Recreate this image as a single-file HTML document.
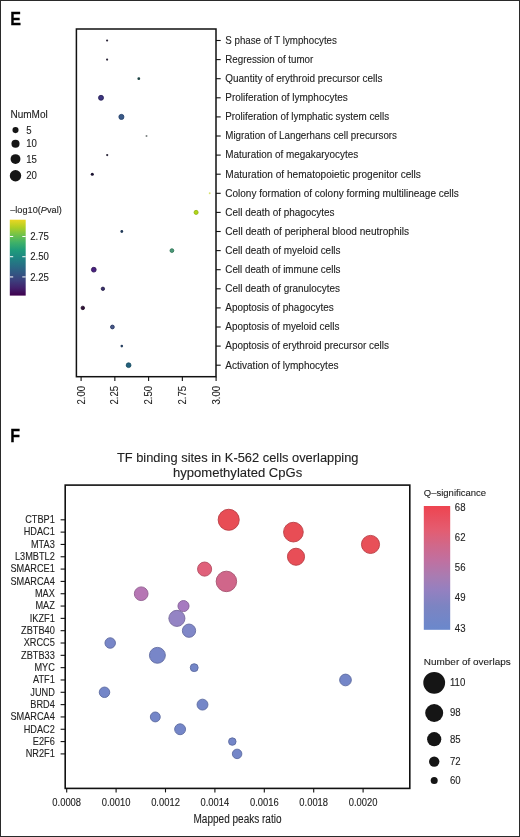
<!DOCTYPE html>
<html><head><meta charset="utf-8"><title>Figure</title>
<style>html,body{margin:0;padding:0;background:#fff;width:520px;height:837px;overflow:hidden}</style>
</head><body>
<svg width="520" height="837" viewBox="0 0 520 837" style="display:block;filter:blur(0.3px)">
<rect x="0" y="0" width="520" height="837" fill="#fff"/>
<text transform="translate(10.30,24.60) scale(0.87,1)" stroke="#000" stroke-width="0.3" style="font-family:'Liberation Sans',sans-serif;font-size:18.5px;font-weight:bold" fill="#000">E</text>
<line x1="216.0" y1="40.50" x2="220.7" y2="40.50" stroke="#111" stroke-width="1.1"/>
<text transform="translate(225.30,43.80) scale(1,1.05)" textLength="111.6" lengthAdjust="spacingAndGlyphs" stroke="#222" stroke-width="0.1" style="font-family:'Liberation Sans',sans-serif;font-size:9.8px" fill="#222">S phase of T lymphocytes</text>
<line x1="216.0" y1="59.60" x2="220.7" y2="59.60" stroke="#111" stroke-width="1.1"/>
<text transform="translate(225.30,62.90) scale(1,1.05)" textLength="88.0" lengthAdjust="spacingAndGlyphs" stroke="#222" stroke-width="0.1" style="font-family:'Liberation Sans',sans-serif;font-size:9.8px" fill="#222">Regression of tumor</text>
<line x1="216.0" y1="78.70" x2="220.7" y2="78.70" stroke="#111" stroke-width="1.1"/>
<text transform="translate(225.30,82.00) scale(1,1.05)" textLength="157.2" lengthAdjust="spacingAndGlyphs" stroke="#222" stroke-width="0.1" style="font-family:'Liberation Sans',sans-serif;font-size:9.8px" fill="#222">Quantity of erythroid precursor cells</text>
<line x1="216.0" y1="97.80" x2="220.7" y2="97.80" stroke="#111" stroke-width="1.1"/>
<text transform="translate(225.30,101.10) scale(1,1.05)" textLength="122.4" lengthAdjust="spacingAndGlyphs" stroke="#222" stroke-width="0.1" style="font-family:'Liberation Sans',sans-serif;font-size:9.8px" fill="#222">Proliferation of lymphocytes</text>
<line x1="216.0" y1="116.90" x2="220.7" y2="116.90" stroke="#111" stroke-width="1.1"/>
<text transform="translate(225.30,120.20) scale(1,1.05)" textLength="163.8" lengthAdjust="spacingAndGlyphs" stroke="#222" stroke-width="0.1" style="font-family:'Liberation Sans',sans-serif;font-size:9.8px" fill="#222">Proliferation of lymphatic system cells</text>
<line x1="216.0" y1="136.00" x2="220.7" y2="136.00" stroke="#111" stroke-width="1.1"/>
<text transform="translate(225.30,139.30) scale(1,1.05)" textLength="171.7" lengthAdjust="spacingAndGlyphs" stroke="#222" stroke-width="0.1" style="font-family:'Liberation Sans',sans-serif;font-size:9.8px" fill="#222">Migration of Langerhans cell precursors</text>
<line x1="216.0" y1="155.10" x2="220.7" y2="155.10" stroke="#111" stroke-width="1.1"/>
<text transform="translate(225.30,158.40) scale(1,1.05)" textLength="132.9" lengthAdjust="spacingAndGlyphs" stroke="#222" stroke-width="0.1" style="font-family:'Liberation Sans',sans-serif;font-size:9.8px" fill="#222">Maturation of megakaryocytes</text>
<line x1="216.0" y1="174.20" x2="220.7" y2="174.20" stroke="#111" stroke-width="1.1"/>
<text transform="translate(225.30,177.50) scale(1,1.05)" textLength="195.6" lengthAdjust="spacingAndGlyphs" stroke="#222" stroke-width="0.1" style="font-family:'Liberation Sans',sans-serif;font-size:9.8px" fill="#222">Maturation of hematopoietic progenitor cells</text>
<line x1="216.0" y1="193.30" x2="220.7" y2="193.30" stroke="#111" stroke-width="1.1"/>
<text transform="translate(225.30,196.60) scale(1,1.05)" textLength="233.5" lengthAdjust="spacingAndGlyphs" stroke="#222" stroke-width="0.1" style="font-family:'Liberation Sans',sans-serif;font-size:9.8px" fill="#222">Colony formation of colony forming multilineage cells</text>
<line x1="216.0" y1="212.40" x2="220.7" y2="212.40" stroke="#111" stroke-width="1.1"/>
<text transform="translate(225.30,215.70) scale(1,1.05)" textLength="109.2" lengthAdjust="spacingAndGlyphs" stroke="#222" stroke-width="0.1" style="font-family:'Liberation Sans',sans-serif;font-size:9.8px" fill="#222">Cell death of phagocytes</text>
<line x1="216.0" y1="231.50" x2="220.7" y2="231.50" stroke="#111" stroke-width="1.1"/>
<text transform="translate(225.30,234.80) scale(1,1.05)" textLength="183.7" lengthAdjust="spacingAndGlyphs" stroke="#222" stroke-width="0.1" style="font-family:'Liberation Sans',sans-serif;font-size:9.8px" fill="#222">Cell death of peripheral blood neutrophils</text>
<line x1="216.0" y1="250.60" x2="220.7" y2="250.60" stroke="#111" stroke-width="1.1"/>
<text transform="translate(225.30,253.90) scale(1,1.05)" textLength="115.2" lengthAdjust="spacingAndGlyphs" stroke="#222" stroke-width="0.1" style="font-family:'Liberation Sans',sans-serif;font-size:9.8px" fill="#222">Cell death of myeloid cells</text>
<line x1="216.0" y1="269.70" x2="220.7" y2="269.70" stroke="#111" stroke-width="1.1"/>
<text transform="translate(225.30,273.00) scale(1,1.05)" textLength="115.2" lengthAdjust="spacingAndGlyphs" stroke="#222" stroke-width="0.1" style="font-family:'Liberation Sans',sans-serif;font-size:9.8px" fill="#222">Cell death of immune cells</text>
<line x1="216.0" y1="288.80" x2="220.7" y2="288.80" stroke="#111" stroke-width="1.1"/>
<text transform="translate(225.30,292.10) scale(1,1.05)" textLength="114.6" lengthAdjust="spacingAndGlyphs" stroke="#222" stroke-width="0.1" style="font-family:'Liberation Sans',sans-serif;font-size:9.8px" fill="#222">Cell death of granulocytes</text>
<line x1="216.0" y1="307.90" x2="220.7" y2="307.90" stroke="#111" stroke-width="1.1"/>
<text transform="translate(225.30,311.20) scale(1,1.05)" textLength="108.4" lengthAdjust="spacingAndGlyphs" stroke="#222" stroke-width="0.1" style="font-family:'Liberation Sans',sans-serif;font-size:9.8px" fill="#222">Apoptosis of phagocytes</text>
<line x1="216.0" y1="327.00" x2="220.7" y2="327.00" stroke="#111" stroke-width="1.1"/>
<text transform="translate(225.30,330.30) scale(1,1.05)" textLength="114.1" lengthAdjust="spacingAndGlyphs" stroke="#222" stroke-width="0.1" style="font-family:'Liberation Sans',sans-serif;font-size:9.8px" fill="#222">Apoptosis of myeloid cells</text>
<line x1="216.0" y1="346.10" x2="220.7" y2="346.10" stroke="#111" stroke-width="1.1"/>
<text transform="translate(225.30,349.40) scale(1,1.05)" textLength="163.6" lengthAdjust="spacingAndGlyphs" stroke="#222" stroke-width="0.1" style="font-family:'Liberation Sans',sans-serif;font-size:9.8px" fill="#222">Apoptosis of erythroid precursor cells</text>
<line x1="216.0" y1="365.20" x2="220.7" y2="365.20" stroke="#111" stroke-width="1.1"/>
<text transform="translate(225.30,368.50) scale(1,1.05)" textLength="113.2" lengthAdjust="spacingAndGlyphs" stroke="#222" stroke-width="0.1" style="font-family:'Liberation Sans',sans-serif;font-size:9.8px" fill="#222">Activation of lymphocytes</text>
<line x1="81.10" y1="376.7" x2="81.10" y2="381.0" stroke="#111" stroke-width="1.1"/>
<text transform="translate(84.60,385.80) rotate(-90) scale(1,1.05)" text-anchor="end" stroke="#222" stroke-width="0.1" style="font-family:'Liberation Sans',sans-serif;font-size:9.6px" fill="#222">2.00</text>
<line x1="114.85" y1="376.7" x2="114.85" y2="381.0" stroke="#111" stroke-width="1.1"/>
<text transform="translate(118.35,385.80) rotate(-90) scale(1,1.05)" text-anchor="end" stroke="#222" stroke-width="0.1" style="font-family:'Liberation Sans',sans-serif;font-size:9.6px" fill="#222">2.25</text>
<line x1="148.60" y1="376.7" x2="148.60" y2="381.0" stroke="#111" stroke-width="1.1"/>
<text transform="translate(152.10,385.80) rotate(-90) scale(1,1.05)" text-anchor="end" stroke="#222" stroke-width="0.1" style="font-family:'Liberation Sans',sans-serif;font-size:9.6px" fill="#222">2.50</text>
<line x1="182.35" y1="376.7" x2="182.35" y2="381.0" stroke="#111" stroke-width="1.1"/>
<text transform="translate(185.85,385.80) rotate(-90) scale(1,1.05)" text-anchor="end" stroke="#222" stroke-width="0.1" style="font-family:'Liberation Sans',sans-serif;font-size:9.6px" fill="#222">2.75</text>
<line x1="216.10" y1="376.7" x2="216.10" y2="381.0" stroke="#111" stroke-width="1.1"/>
<text transform="translate(219.60,385.80) rotate(-90) scale(1,1.05)" text-anchor="end" stroke="#222" stroke-width="0.1" style="font-family:'Liberation Sans',sans-serif;font-size:9.6px" fill="#222">3.00</text>
<circle cx="107.1" cy="40.50" r="1.1" fill="#2a2438"/>
<circle cx="107.1" cy="59.60" r="1.1" fill="#2a2438"/>
<circle cx="138.8" cy="78.70" r="1.4" fill="#1e4444"/>
<circle cx="101.0" cy="97.80" r="2.50" fill="#3d3580" stroke="#221c52" stroke-width="0.8"/>
<circle cx="121.4" cy="116.90" r="2.55" fill="#3a5a88" stroke="#24406a" stroke-width="0.8"/>
<circle cx="146.5" cy="136.00" r="1.0" fill="#7a8080"/>
<circle cx="107.2" cy="155.10" r="1.1" fill="#2a2438"/>
<circle cx="92.3" cy="174.20" r="1.55" fill="#1a1230"/>
<circle cx="209.7" cy="193.30" r="0.95" fill="#d8e070"/>
<circle cx="196.1" cy="212.40" r="2.05" fill="#b0d818" stroke="#92b012" stroke-width="0.8"/>
<circle cx="121.8" cy="231.50" r="1.4" fill="#203a58"/>
<circle cx="171.9" cy="250.60" r="1.90" fill="#4c9a7a" stroke="#2a7050" stroke-width="0.8"/>
<circle cx="93.8" cy="269.70" r="2.40" fill="#4a2080" stroke="#2a1050" stroke-width="0.8"/>
<circle cx="102.9" cy="288.80" r="1.70" fill="#3a3070" stroke="#201840" stroke-width="0.8"/>
<circle cx="82.8" cy="307.90" r="1.75" fill="#30103a" stroke="#1a0820" stroke-width="0.8"/>
<circle cx="112.4" cy="327.00" r="1.90" fill="#4a5a8a" stroke="#20305a" stroke-width="0.8"/>
<circle cx="121.8" cy="346.10" r="1.3" fill="#284060"/>
<circle cx="128.6" cy="365.20" r="2.40" fill="#23607c" stroke="#154a5e" stroke-width="0.8"/>
<rect x="76.4" y="29.0" width="139.6" height="347.7" fill="none" stroke="#111" stroke-width="1.5"/>
<text transform="translate(10.50,117.60) scale(1,1.05)" textLength="37.2" lengthAdjust="spacingAndGlyphs" stroke="#222" stroke-width="0.1" style="font-family:'Liberation Sans',sans-serif;font-size:9.6px" fill="#222">NumMol</text>
<circle cx="15.5" cy="130.1" r="3.05" fill="#151515"/>
<text transform="translate(26.20,133.70) scale(1,1.05)" stroke="#222" stroke-width="0.1" style="font-family:'Liberation Sans',sans-serif;font-size:9.6px" fill="#222">5</text>
<circle cx="15.5" cy="143.8" r="4.05" fill="#151515"/>
<text transform="translate(26.20,147.40) scale(1,1.05)" stroke="#222" stroke-width="0.1" style="font-family:'Liberation Sans',sans-serif;font-size:9.6px" fill="#222">10</text>
<circle cx="15.5" cy="159.1" r="4.95" fill="#151515"/>
<text transform="translate(26.20,162.70) scale(1,1.05)" stroke="#222" stroke-width="0.1" style="font-family:'Liberation Sans',sans-serif;font-size:9.6px" fill="#222">15</text>
<circle cx="15.5" cy="175.8" r="5.7" fill="#151515"/>
<text transform="translate(26.20,179.40) scale(1,1.05)" stroke="#222" stroke-width="0.1" style="font-family:'Liberation Sans',sans-serif;font-size:9.6px" fill="#222">20</text>
<text transform="translate(10.20,213.10) scale(1,1.03)" stroke="#222" stroke-width="0.1" style="font-family:'Liberation Sans',sans-serif;font-size:9.2px" fill="#222">–log10(<tspan font-style="italic">P</tspan>val)</text>
<defs><linearGradient id="vir" x1="0" y1="1" x2="0" y2="0">
<stop offset="0.00" stop-color="#3f004e"/>
<stop offset="0.10" stop-color="#42216c"/>
<stop offset="0.20" stop-color="#3c3f7d"/>
<stop offset="0.30" stop-color="#315883"/>
<stop offset="0.40" stop-color="#276f84"/>
<stop offset="0.50" stop-color="#1e8682"/>
<stop offset="0.60" stop-color="#1f9c7a"/>
<stop offset="0.70" stop-color="#3fb168"/>
<stop offset="0.80" stop-color="#71c24b"/>
<stop offset="0.90" stop-color="#afcf23"/>
<stop offset="1.00" stop-color="#ebd622"/>
</linearGradient>
<linearGradient id="qs" x1="0" y1="1" x2="0" y2="0">
<stop offset="0" stop-color="#6a88cc"/>
<stop offset="0.19" stop-color="#7c84c2"/>
<stop offset="0.32" stop-color="#9480c0"/>
<stop offset="0.43" stop-color="#a87cb2"/>
<stop offset="0.56" stop-color="#c070a0"/>
<stop offset="0.68" stop-color="#d0688a"/>
<stop offset="0.81" stop-color="#e45c70"/>
<stop offset="1" stop-color="#ee4450"/>
</linearGradient></defs>
<rect x="9.8" y="219.7" width="15.899999999999999" height="75.90000000000003" fill="url(#vir)"/>
<line x1="9.8" y1="236.51" x2="13.200000000000001" y2="236.51" stroke="#fff" stroke-width="1"/>
<line x1="22.3" y1="236.51" x2="25.7" y2="236.51" stroke="#fff" stroke-width="1"/>
<text transform="translate(30.20,240.11) scale(1,1.05)" stroke="#222" stroke-width="0.1" style="font-family:'Liberation Sans',sans-serif;font-size:9.6px" fill="#222">2.75</text>
<line x1="9.8" y1="256.72" x2="13.200000000000001" y2="256.72" stroke="#fff" stroke-width="1"/>
<line x1="22.3" y1="256.72" x2="25.7" y2="256.72" stroke="#fff" stroke-width="1"/>
<text transform="translate(30.20,260.32) scale(1,1.05)" stroke="#222" stroke-width="0.1" style="font-family:'Liberation Sans',sans-serif;font-size:9.6px" fill="#222">2.50</text>
<line x1="9.8" y1="276.93" x2="13.200000000000001" y2="276.93" stroke="#fff" stroke-width="1"/>
<line x1="22.3" y1="276.93" x2="25.7" y2="276.93" stroke="#fff" stroke-width="1"/>
<text transform="translate(30.20,280.53) scale(1,1.05)" stroke="#222" stroke-width="0.1" style="font-family:'Liberation Sans',sans-serif;font-size:9.6px" fill="#222">2.25</text>
<text transform="translate(10.30,442.00) scale(0.87,1)" stroke="#000" stroke-width="0.3" style="font-family:'Liberation Sans',sans-serif;font-size:18.5px;font-weight:bold" fill="#000">F</text>
<text transform="translate(237.70,461.80) scale(1,1.0)" text-anchor="middle" textLength="241.6" lengthAdjust="spacingAndGlyphs" stroke="#222" stroke-width="0.1" style="font-family:'Liberation Sans',sans-serif;font-size:12.0px" fill="#222">TF binding sites in K-562 cells overlapping</text>
<text transform="translate(237.60,476.50) scale(1,1.0)" text-anchor="middle" textLength="129.3" lengthAdjust="spacingAndGlyphs" stroke="#222" stroke-width="0.1" style="font-family:'Liberation Sans',sans-serif;font-size:12.0px" fill="#222">hypomethylated CpGs</text>
<line x1="60.6" y1="519.80" x2="65.2" y2="519.80" stroke="#111" stroke-width="1.1"/>
<text transform="translate(54.80,523.10) scale(1,1.1)" text-anchor="end" stroke="#222" stroke-width="0.1" style="font-family:'Liberation Sans',sans-serif;font-size:9.2px" fill="#222">CTBP1</text>
<line x1="60.6" y1="532.12" x2="65.2" y2="532.12" stroke="#111" stroke-width="1.1"/>
<text transform="translate(54.80,535.42) scale(1,1.1)" text-anchor="end" stroke="#222" stroke-width="0.1" style="font-family:'Liberation Sans',sans-serif;font-size:9.2px" fill="#222">HDAC1</text>
<line x1="60.6" y1="544.44" x2="65.2" y2="544.44" stroke="#111" stroke-width="1.1"/>
<text transform="translate(54.80,547.74) scale(1,1.1)" text-anchor="end" stroke="#222" stroke-width="0.1" style="font-family:'Liberation Sans',sans-serif;font-size:9.2px" fill="#222">MTA3</text>
<line x1="60.6" y1="556.76" x2="65.2" y2="556.76" stroke="#111" stroke-width="1.1"/>
<text transform="translate(54.80,560.06) scale(1,1.1)" text-anchor="end" stroke="#222" stroke-width="0.1" style="font-family:'Liberation Sans',sans-serif;font-size:9.2px" fill="#222">L3MBTL2</text>
<line x1="60.6" y1="569.08" x2="65.2" y2="569.08" stroke="#111" stroke-width="1.1"/>
<text transform="translate(54.80,572.38) scale(1,1.1)" text-anchor="end" stroke="#222" stroke-width="0.1" style="font-family:'Liberation Sans',sans-serif;font-size:9.2px" fill="#222">SMARCE1</text>
<line x1="60.6" y1="581.41" x2="65.2" y2="581.41" stroke="#111" stroke-width="1.1"/>
<text transform="translate(54.80,584.71) scale(1,1.1)" text-anchor="end" stroke="#222" stroke-width="0.1" style="font-family:'Liberation Sans',sans-serif;font-size:9.2px" fill="#222">SMARCA4</text>
<line x1="60.6" y1="593.73" x2="65.2" y2="593.73" stroke="#111" stroke-width="1.1"/>
<text transform="translate(54.80,597.03) scale(1,1.1)" text-anchor="end" stroke="#222" stroke-width="0.1" style="font-family:'Liberation Sans',sans-serif;font-size:9.2px" fill="#222">MAX</text>
<line x1="60.6" y1="606.05" x2="65.2" y2="606.05" stroke="#111" stroke-width="1.1"/>
<text transform="translate(54.80,609.35) scale(1,1.1)" text-anchor="end" stroke="#222" stroke-width="0.1" style="font-family:'Liberation Sans',sans-serif;font-size:9.2px" fill="#222">MAZ</text>
<line x1="60.6" y1="618.37" x2="65.2" y2="618.37" stroke="#111" stroke-width="1.1"/>
<text transform="translate(54.80,621.67) scale(1,1.1)" text-anchor="end" stroke="#222" stroke-width="0.1" style="font-family:'Liberation Sans',sans-serif;font-size:9.2px" fill="#222">IKZF1</text>
<line x1="60.6" y1="630.69" x2="65.2" y2="630.69" stroke="#111" stroke-width="1.1"/>
<text transform="translate(54.80,633.99) scale(1,1.1)" text-anchor="end" stroke="#222" stroke-width="0.1" style="font-family:'Liberation Sans',sans-serif;font-size:9.2px" fill="#222">ZBTB40</text>
<line x1="60.6" y1="643.01" x2="65.2" y2="643.01" stroke="#111" stroke-width="1.1"/>
<text transform="translate(54.80,646.31) scale(1,1.1)" text-anchor="end" stroke="#222" stroke-width="0.1" style="font-family:'Liberation Sans',sans-serif;font-size:9.2px" fill="#222">XRCC5</text>
<line x1="60.6" y1="655.33" x2="65.2" y2="655.33" stroke="#111" stroke-width="1.1"/>
<text transform="translate(54.80,658.63) scale(1,1.1)" text-anchor="end" stroke="#222" stroke-width="0.1" style="font-family:'Liberation Sans',sans-serif;font-size:9.2px" fill="#222">ZBTB33</text>
<line x1="60.6" y1="667.65" x2="65.2" y2="667.65" stroke="#111" stroke-width="1.1"/>
<text transform="translate(54.80,670.95) scale(1,1.1)" text-anchor="end" stroke="#222" stroke-width="0.1" style="font-family:'Liberation Sans',sans-serif;font-size:9.2px" fill="#222">MYC</text>
<line x1="60.6" y1="679.97" x2="65.2" y2="679.97" stroke="#111" stroke-width="1.1"/>
<text transform="translate(54.80,683.27) scale(1,1.1)" text-anchor="end" stroke="#222" stroke-width="0.1" style="font-family:'Liberation Sans',sans-serif;font-size:9.2px" fill="#222">ATF1</text>
<line x1="60.6" y1="692.29" x2="65.2" y2="692.29" stroke="#111" stroke-width="1.1"/>
<text transform="translate(54.80,695.59) scale(1,1.1)" text-anchor="end" stroke="#222" stroke-width="0.1" style="font-family:'Liberation Sans',sans-serif;font-size:9.2px" fill="#222">JUND</text>
<line x1="60.6" y1="704.62" x2="65.2" y2="704.62" stroke="#111" stroke-width="1.1"/>
<text transform="translate(54.80,707.92) scale(1,1.1)" text-anchor="end" stroke="#222" stroke-width="0.1" style="font-family:'Liberation Sans',sans-serif;font-size:9.2px" fill="#222">BRD4</text>
<line x1="60.6" y1="716.94" x2="65.2" y2="716.94" stroke="#111" stroke-width="1.1"/>
<text transform="translate(54.80,720.24) scale(1,1.1)" text-anchor="end" stroke="#222" stroke-width="0.1" style="font-family:'Liberation Sans',sans-serif;font-size:9.2px" fill="#222">SMARCA4</text>
<line x1="60.6" y1="729.26" x2="65.2" y2="729.26" stroke="#111" stroke-width="1.1"/>
<text transform="translate(54.80,732.56) scale(1,1.1)" text-anchor="end" stroke="#222" stroke-width="0.1" style="font-family:'Liberation Sans',sans-serif;font-size:9.2px" fill="#222">HDAC2</text>
<line x1="60.6" y1="741.58" x2="65.2" y2="741.58" stroke="#111" stroke-width="1.1"/>
<text transform="translate(54.80,744.88) scale(1,1.1)" text-anchor="end" stroke="#222" stroke-width="0.1" style="font-family:'Liberation Sans',sans-serif;font-size:9.2px" fill="#222">E2F6</text>
<line x1="60.6" y1="753.90" x2="65.2" y2="753.90" stroke="#111" stroke-width="1.1"/>
<text transform="translate(54.80,757.20) scale(1,1.1)" text-anchor="end" stroke="#222" stroke-width="0.1" style="font-family:'Liberation Sans',sans-serif;font-size:9.2px" fill="#222">NR2F1</text>
<line x1="66.70" y1="788.4" x2="66.70" y2="792.4" stroke="#111" stroke-width="1.1"/>
<text transform="translate(66.70,805.60) scale(1,1.1)" text-anchor="middle" stroke="#222" stroke-width="0.1" style="font-family:'Liberation Sans',sans-serif;font-size:9.4px" fill="#222">0.0008</text>
<line x1="116.10" y1="788.4" x2="116.10" y2="792.4" stroke="#111" stroke-width="1.1"/>
<text transform="translate(116.10,805.60) scale(1,1.1)" text-anchor="middle" stroke="#222" stroke-width="0.1" style="font-family:'Liberation Sans',sans-serif;font-size:9.4px" fill="#222">0.0010</text>
<line x1="165.50" y1="788.4" x2="165.50" y2="792.4" stroke="#111" stroke-width="1.1"/>
<text transform="translate(165.50,805.60) scale(1,1.1)" text-anchor="middle" stroke="#222" stroke-width="0.1" style="font-family:'Liberation Sans',sans-serif;font-size:9.4px" fill="#222">0.0012</text>
<line x1="214.90" y1="788.4" x2="214.90" y2="792.4" stroke="#111" stroke-width="1.1"/>
<text transform="translate(214.90,805.60) scale(1,1.1)" text-anchor="middle" stroke="#222" stroke-width="0.1" style="font-family:'Liberation Sans',sans-serif;font-size:9.4px" fill="#222">0.0014</text>
<line x1="264.30" y1="788.4" x2="264.30" y2="792.4" stroke="#111" stroke-width="1.1"/>
<text transform="translate(264.30,805.60) scale(1,1.1)" text-anchor="middle" stroke="#222" stroke-width="0.1" style="font-family:'Liberation Sans',sans-serif;font-size:9.4px" fill="#222">0.0016</text>
<line x1="313.70" y1="788.4" x2="313.70" y2="792.4" stroke="#111" stroke-width="1.1"/>
<text transform="translate(313.70,805.60) scale(1,1.1)" text-anchor="middle" stroke="#222" stroke-width="0.1" style="font-family:'Liberation Sans',sans-serif;font-size:9.4px" fill="#222">0.0018</text>
<line x1="363.10" y1="788.4" x2="363.10" y2="792.4" stroke="#111" stroke-width="1.1"/>
<text transform="translate(363.10,805.60) scale(1,1.1)" text-anchor="middle" stroke="#222" stroke-width="0.1" style="font-family:'Liberation Sans',sans-serif;font-size:9.4px" fill="#222">0.0020</text>
<text transform="translate(237.50,823.40) scale(1,1.0)" text-anchor="middle" textLength="88" lengthAdjust="spacingAndGlyphs" stroke="#222" stroke-width="0.1" style="font-family:'Liberation Sans',sans-serif;font-size:12.0px" fill="#222">Mapped peaks ratio</text>
<circle cx="228.7" cy="519.80" r="10.55" fill="#e84d55" stroke="#b93d44" stroke-width="0.9"/>
<circle cx="293.4" cy="532.12" r="9.85" fill="#e84d55" stroke="#b93d44" stroke-width="0.9"/>
<circle cx="370.5" cy="544.44" r="9.05" fill="#e85058" stroke="#b94046" stroke-width="0.9"/>
<circle cx="296.0" cy="556.76" r="8.55" fill="#e84e57" stroke="#b93e45" stroke-width="0.9"/>
<circle cx="204.6" cy="569.08" r="7.05" fill="#e0607a" stroke="#b34c61" stroke-width="0.9"/>
<circle cx="226.4" cy="581.41" r="10.25" fill="#d0668a" stroke="#a6516e" stroke-width="0.9"/>
<circle cx="141.2" cy="593.73" r="6.85" fill="#b676b4" stroke="#915e90" stroke-width="0.9"/>
<circle cx="183.5" cy="606.05" r="5.55" fill="#a67ac0" stroke="#846199" stroke-width="0.9"/>
<circle cx="176.9" cy="618.37" r="8.05" fill="#9484c4" stroke="#76699c" stroke-width="0.9"/>
<circle cx="189.0" cy="630.69" r="6.65" fill="#8087c8" stroke="#666ca0" stroke-width="0.9"/>
<circle cx="110.2" cy="643.01" r="5.25" fill="#7886c8" stroke="#606ba0" stroke-width="0.9"/>
<circle cx="157.4" cy="655.33" r="7.95" fill="#7886c8" stroke="#606ba0" stroke-width="0.9"/>
<circle cx="194.2" cy="667.65" r="3.95" fill="#7486c8" stroke="#5c6ba0" stroke-width="0.9"/>
<circle cx="345.5" cy="679.97" r="5.85" fill="#7486c8" stroke="#5c6ba0" stroke-width="0.9"/>
<circle cx="104.5" cy="692.29" r="5.25" fill="#7486c8" stroke="#5c6ba0" stroke-width="0.9"/>
<circle cx="202.5" cy="704.62" r="5.45" fill="#7486c8" stroke="#5c6ba0" stroke-width="0.9"/>
<circle cx="155.3" cy="716.94" r="4.95" fill="#7486c8" stroke="#5c6ba0" stroke-width="0.9"/>
<circle cx="180.1" cy="729.26" r="5.45" fill="#7486c8" stroke="#5c6ba0" stroke-width="0.9"/>
<circle cx="232.3" cy="741.58" r="3.75" fill="#7486c8" stroke="#5c6ba0" stroke-width="0.9"/>
<circle cx="237.1" cy="753.90" r="4.75" fill="#7486c8" stroke="#5c6ba0" stroke-width="0.9"/>
<rect x="65.2" y="485.1" width="344.6" height="303.29999999999995" fill="none" stroke="#111" stroke-width="1.6"/>
<text transform="translate(423.80,495.90) scale(1,1.05)" stroke="#222" stroke-width="0.1" style="font-family:'Liberation Sans',sans-serif;font-size:9.5px" fill="#222">Q–significance</text>
<rect x="423.8" y="506" width="26.4" height="123.8" fill="url(#qs)"/>
<text transform="translate(454.80,510.90) scale(1,1.05)" stroke="#222" stroke-width="0.1" style="font-family:'Liberation Sans',sans-serif;font-size:9.6px" fill="#222">68</text>
<text transform="translate(454.80,540.90) scale(1,1.05)" stroke="#222" stroke-width="0.1" style="font-family:'Liberation Sans',sans-serif;font-size:9.6px" fill="#222">62</text>
<text transform="translate(454.80,571.20) scale(1,1.05)" stroke="#222" stroke-width="0.1" style="font-family:'Liberation Sans',sans-serif;font-size:9.6px" fill="#222">56</text>
<text transform="translate(454.80,601.40) scale(1,1.05)" stroke="#222" stroke-width="0.1" style="font-family:'Liberation Sans',sans-serif;font-size:9.6px" fill="#222">49</text>
<text transform="translate(454.80,631.50) scale(1,1.05)" stroke="#222" stroke-width="0.1" style="font-family:'Liberation Sans',sans-serif;font-size:9.6px" fill="#222">43</text>
<text transform="translate(423.80,665.40) scale(1,1.05)" textLength="86.9" lengthAdjust="spacingAndGlyphs" stroke="#222" stroke-width="0.1" style="font-family:'Liberation Sans',sans-serif;font-size:9.5px" fill="#222">Number of overlaps</text>
<circle cx="434.2" cy="682.8" r="10.9" fill="#151515"/>
<text transform="translate(450.00,686.20) scale(1,1.05)" stroke="#222" stroke-width="0.1" style="font-family:'Liberation Sans',sans-serif;font-size:9.6px" fill="#222">110</text>
<circle cx="434.2" cy="713.0" r="9.0" fill="#151515"/>
<text transform="translate(450.00,716.40) scale(1,1.05)" stroke="#222" stroke-width="0.1" style="font-family:'Liberation Sans',sans-serif;font-size:9.6px" fill="#222">98</text>
<circle cx="434.2" cy="739.2" r="7.1" fill="#151515"/>
<text transform="translate(450.00,742.60) scale(1,1.05)" stroke="#222" stroke-width="0.1" style="font-family:'Liberation Sans',sans-serif;font-size:9.6px" fill="#222">85</text>
<circle cx="434.2" cy="761.6" r="5.2" fill="#151515"/>
<text transform="translate(450.00,765.00) scale(1,1.05)" stroke="#222" stroke-width="0.1" style="font-family:'Liberation Sans',sans-serif;font-size:9.6px" fill="#222">72</text>
<circle cx="434.2" cy="780.6" r="3.5" fill="#151515"/>
<text transform="translate(450.00,784.00) scale(1,1.05)" stroke="#222" stroke-width="0.1" style="font-family:'Liberation Sans',sans-serif;font-size:9.6px" fill="#222">60</text>
<rect x="0.5" y="0.5" width="519" height="836" fill="none" stroke="#2a2a2a" stroke-width="1"/>
</svg>
</body></html>
